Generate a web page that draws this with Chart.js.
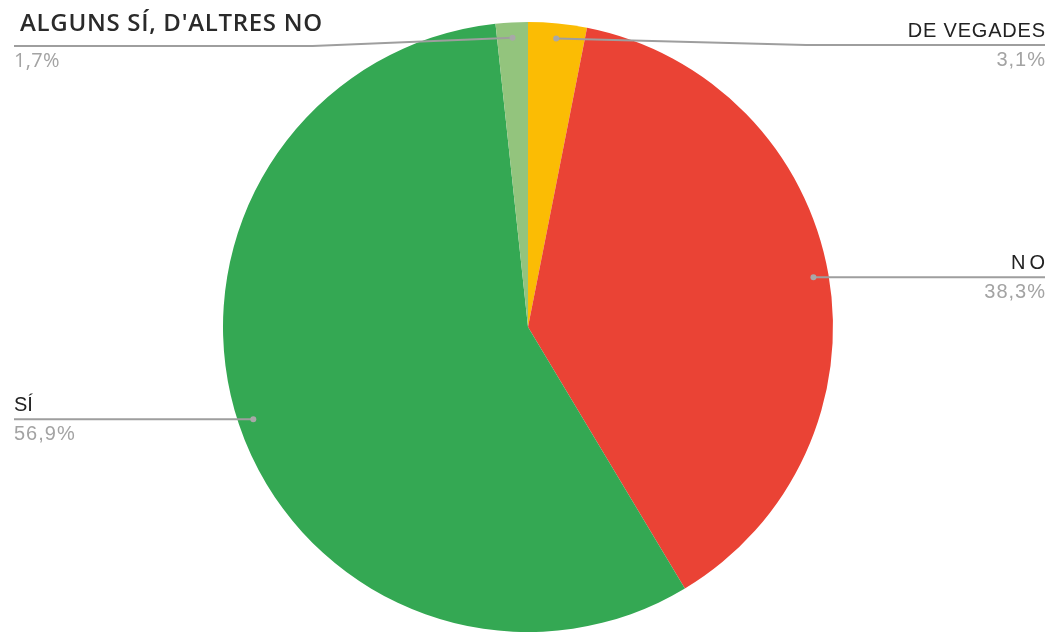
<!DOCTYPE html>
<html>
<head>
<meta charset="utf-8">
<script src="https://cdn.jsdelivr.net/npm/chart.js@4"></script>
<style>
  html, body { margin: 0; padding: 0; background: #ffffff; }
  #wrap { width: 1050px; height: 633px; position: relative; }
</style>
</head>
<body>
<div id="wrap"><canvas id="c" width="1050" height="633"></canvas></div>
<script>
// Data (clockwise from 12 o'clock)
const categories = ["DE VEGADES", "NO", "SÍ", "ALGUNS SÍ, D'ALTRES NO"];
const values = [3.1, 38.3, 56.9, 1.7];
const sliceColors = ["#FBBC04", "#EA4335", "#34A853", "#93C47D"];

const nameFonts = ["20px 'Liberation Sans', Arial, sans-serif",
                   "20px 'Liberation Sans', Arial, sans-serif",
                   "20px 'Liberation Sans', Arial, sans-serif",
                   "600 24px 'Open Sans', sans-serif"];
const pctFonts = ["20px 'Liberation Sans', Arial, sans-serif",
                  "20px 'Liberation Sans', Arial, sans-serif",
                  "20px 'Liberation Sans', Arial, sans-serif",
                  "20px 'Open Sans', sans-serif"];
const nameSpacing = [0.8, 4, 0, 0.7];
const pctSpacing = [1, 1, 1, 0.3];
const nameColors = ["#222222", "#222222", "#222222", "#2a2a2a"];

const fmtPct = v => v.toFixed(1).replace('.', ',') + '%';

const leaderPlugin = {
  id: 'leaders',
  afterDraw(chart) {
    const ctx = chart.ctx;
    const meta = chart.getDatasetMeta(0);
    const W = chart.width;
    meta.data.forEach((arc, i) => {
      const p = arc.getProps(['x', 'y', 'startAngle', 'endAngle', 'outerRadius'], true);
      const mid = (p.startAngle + p.endAngle) / 2;
      const r = p.outerRadius * 0.95;
      const dx = p.x + Math.cos(mid) * r;
      const dy = p.y + Math.sin(mid) * r;
      const right = Math.cos(mid) >= 0;
      const lineY = Math.max(dy, right ? 45 : 46);
      const edgeX = right ? W - 5 : 14;
      const elbowX = right ? dx + 250 : dx - 200;

      ctx.save();
      ctx.strokeStyle = '#9e9e9e';
      ctx.lineWidth = 2;
      ctx.beginPath();
      ctx.moveTo(dx, dy);
      if (Math.abs(lineY - dy) > 0.5) ctx.lineTo(elbowX, lineY);
      ctx.lineTo(edgeX, lineY);
      ctx.stroke();

      ctx.fillStyle = '#a8a8a8';
      ctx.beginPath();
      ctx.arc(dx, dy, 3, 0, Math.PI * 2);
      ctx.fill();

      // name
      ctx.textBaseline = 'alphabetic';
      ctx.textAlign = right ? 'right' : 'left';
      ctx.font = nameFonts[i];
      ctx.fillStyle = nameColors[i];
      ctx.letterSpacing = nameSpacing[i] + 'px';
      const nameY = i === 3 ? lineY - 15 : lineY - 8;
      ctx.fillText(categories[i], right ? edgeX + nameSpacing[i] : (i === 3 ? 20 : edgeX), nameY);

      // percent
      ctx.font = pctFonts[i];
      ctx.fillStyle = '#a3a3a3';
      ctx.letterSpacing = pctSpacing[i] + 'px';
      const pctY = lineY + 21;
      ctx.fillText(fmtPct(values[i]), right ? edgeX + pctSpacing[i] : edgeX, pctY);
      ctx.restore();
    });
  }
};

new Chart(document.getElementById('c'), {
  type: 'pie',
  data: {
    labels: categories,
    datasets: [{
      data: values,
      backgroundColor: sliceColors,
      borderWidth: 0
    }]
  },
  options: {
    responsive: false,
    animation: false,
    layout: { padding: { top: 22, bottom: 1, left: 6, right: 0 } },
    plugins: {
      legend: { display: false },
      tooltip: { enabled: false }
    }
  },
  plugins: [leaderPlugin]
});
</script>
</body>
</html>
